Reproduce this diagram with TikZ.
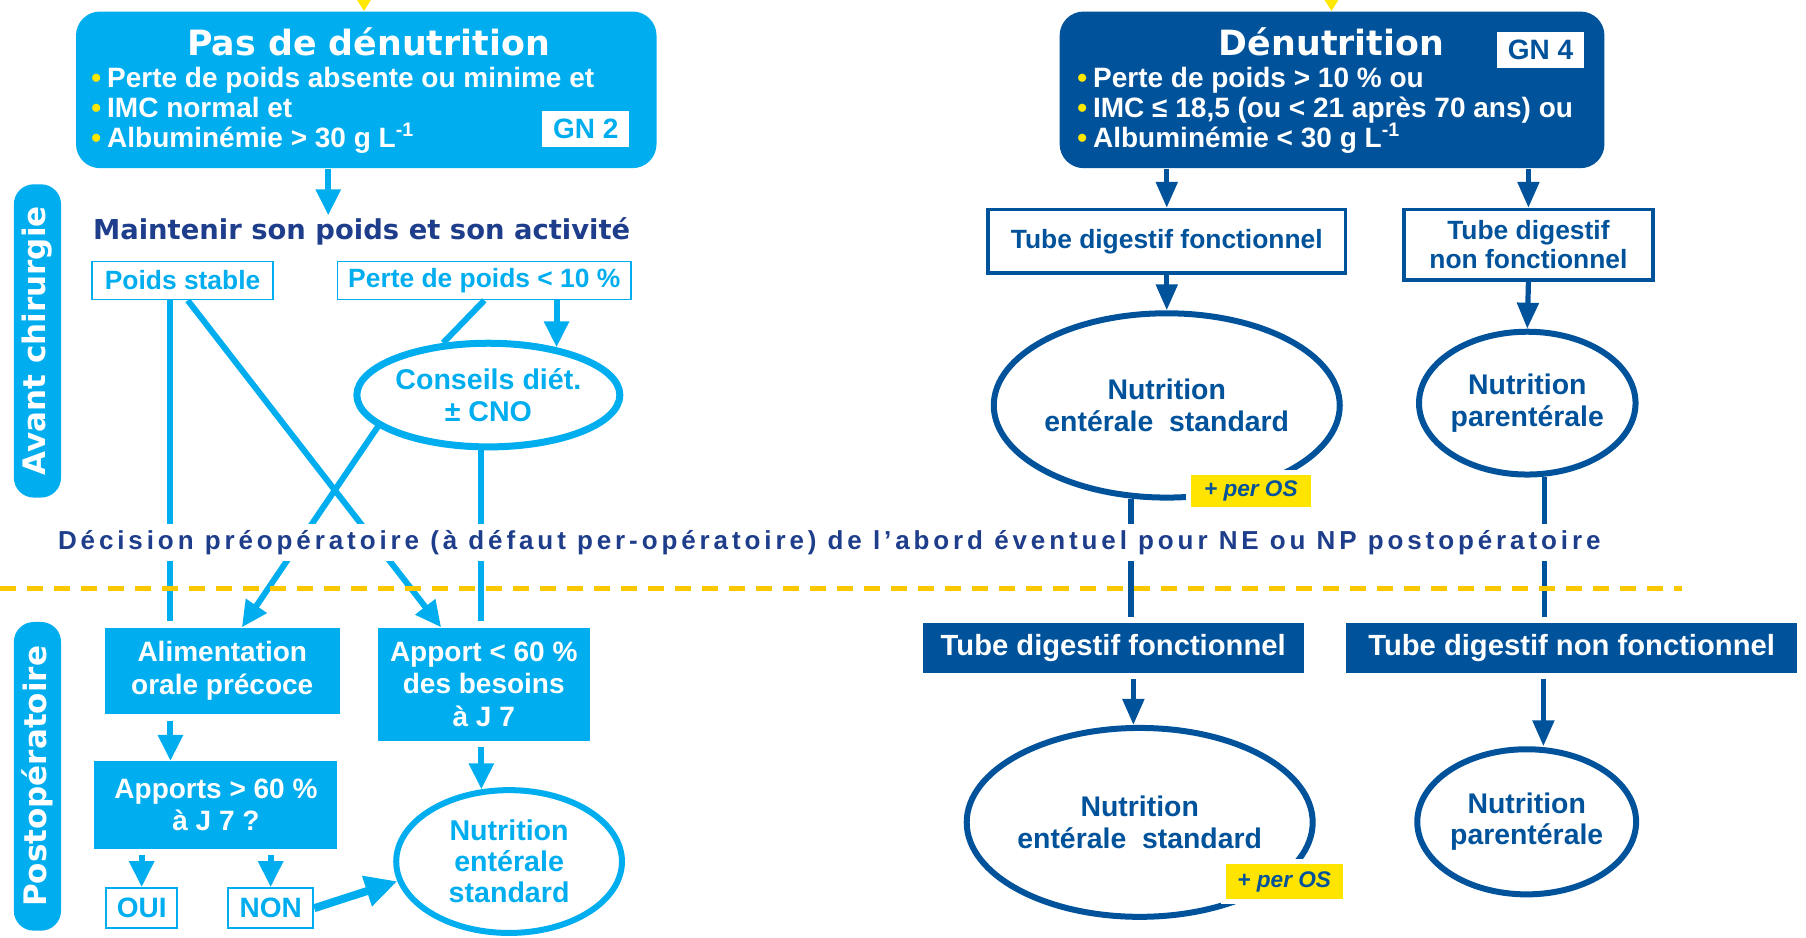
\documentclass[tikz,border=0pt]{standalone}
\usepackage{fontspec}
\setmainfont{Liberation Sans}
\newfontfamily\headfont{DejaVu Sans}
\newfontfamily\trackfont[LetterSpace=15]{Liberation Sans}
\usetikzlibrary{shapes.geometric, arrows.meta, positioning, calc, fit}

\definecolor{lblue}{RGB}{0,174,239}
\definecolor{dblue}{RGB}{0,82,155}
\definecolor{navy}{RGB}{30,62,140}
\definecolor{peryellow}{RGB}{255,228,0}
\definecolor{dashyellow}{RGB}{250,200,0}
\definecolor{dotyellow}{RGB}{255,232,0}

\def\px{0.5759pt}
\newcommand{\ybul}{{\color{dotyellow}\textbullet}\hspace{3pt}}

\begin{document}
\begin{tikzpicture}[x=0.5759pt, y=-0.5759pt,
  panel/.style={rounded corners=12pt, inner sep=0pt, draw=none},
  headline/.style={font=\headfont\bfseries\fontsize{17.4}{20}\selectfont, text=white, inner sep=0pt},
  bul/.style={anchor=base west, inner sep=0pt, text=white, font=\bfseries\fontsize{14}{16}\selectfont},
  gntag/.style={fill=white, inner sep=0pt, minimum width=75*\px, minimum height=32*\px, font=\bfseries\fontsize{14}{16}\selectfont},
  navyhead/.style={text=navy, inner sep=1pt, font=\headfont\bfseries\fontsize{13.7}{16}\selectfont},
  decisionline/.style={text=navy, fill=white, inner xsep=2pt, minimum height=32*\px, font=\trackfont\bfseries\fontsize{13}{15}\selectfont},
  sidetab/.style={fill=lblue, rounded corners=10pt, rotate=90, text=white, inner sep=0pt, minimum height=41*\px, font=\headfont\bfseries\fontsize{15.5}{18}\selectfont},
  thinbox/.style={draw=lblue, line width=0.9pt, fill=white, inner sep=0pt, text=lblue, font=\bfseries\fontsize{13.2}{15}\selectfont},
  lfill/.style={fill=lblue, inner sep=0pt, text=white, align=center, font=\bfseries\fontsize{14}{16.2}\selectfont},
  dframe/.style={draw=dblue, line width=1.8pt, fill=white, inner sep=0pt, text=dblue, align=center, font=\bfseries\fontsize{13.2}{14.4}\selectfont},
  dfill/.style={fill=dblue, inner sep=0pt, text=white, font=\bfseries\fontsize{14.6}{16}\selectfont},
  lell/.style={ellipse, draw=lblue, line width=3.5pt, fill=white, inner sep=0pt, text=lblue, align=center, font=\bfseries\fontsize{14.3}{15.6}\selectfont},
  dell/.style={ellipse, draw=dblue, line width=3pt, fill=white, inner sep=0pt, text=dblue, align=center, font=\bfseries\fontsize{14.2}{15.6}\selectfont},
  peros/.style={fill=peryellow, draw=white, line width=2.5pt, inner sep=0pt, text=dblue, font=\bfseries\itshape\fontsize{11.3}{13}\selectfont},
  larrow/.style={draw=lblue, line width=3pt, -{Triangle[width=12pt,length=13pt]}},
  lline/.style={draw=lblue, line width=3pt},
  darrow/.style={draw=dblue, line width=2.6pt, -{Triangle[width=10.5pt,length=13pt]}},
  dline/.style={draw=dblue, line width=2.6pt},
  yarrow/.style={draw=dotyellow, line width=2pt, -{Triangle[width=7pt,length=6pt]}},
  dashline/.style={draw=dashyellow, line width=2.4pt, dash pattern=on 8pt off 5.5pt}
]
\useasboundingbox (0,0) rectangle (1568,814);

% --- left panel: no undernutrition
\node[panel, fill=lblue, fit={(66,10) (570,146)}] (pasden) {};
\node[headline] (pasdentitle) at (320,36) {Pas de dénutrition};
\foreach \txt [count=\k] in {{Perte de poids absente ou minime et}, {IMC normal et}, {Albuminémie > 30 g L\textsuperscript{-1}}}
  \node[bul] (pbul\k) at (79,50+26*\k) {\ybul\txt};
\node[gntag, text=lblue] (gn2) at (508.5,112) {GN 2};

% --- right panel: undernutrition
\node[panel, fill=dblue, fit={(920,10) (1393,146)}] (denut) {};
\node[headline] (denuttitle) at (1156,36) {Dénutrition};
\foreach \txt [count=\k] in {{Perte de poids > 10 \% ou}, {IMC ≤ 18,5 (ou < 21 après 70 ans) ou}, {Albuminémie < 30 g L\textsuperscript{-1}}}
  \node[bul] (dbul\k) at (935,50+26*\k) {\ybul\txt};
\node[gntag, text=dblue, minimum height=31*\px] (gn4) at (1337.5,43.5) {GN 4};

% incoming arrows from above
\coordinate (inleft) at (316,0);
\coordinate (inright) at (1156,0);
\draw[yarrow] (inleft) -- (inleft |- pasden.north);
\draw[yarrow] (inright) -- (inright |- denut.north);

% side tabs
\node[sidetab, minimum width=272*\px] (avant) at (32.5,296) {Avant chirurgie};
\node[sidetab, minimum width=268*\px] (postop) at (32.5,674) {Postopératoire};

% --- before surgery, left
\node[navyhead] (maint) at (314,201) {Maintenir son poids et son activité};
\node[thinbox, minimum width=157*\px, minimum height=33*\px] (pstable) at (158.5,243.5) {Poids stable};
\node[thinbox, minimum width=255*\px, minimum height=33*\px] (perte) at (420.5,243.5) {Perte de poids < 10 \%};
\node[lell, minimum width=226*\px, minimum height=90*\px] (conseils) at (424,343) {Conseils diét.\\± CNO};

% --- before surgery, right
\node[dframe, minimum width=310*\px, minimum height=55*\px] (tdf1) at (1013,209.5) {Tube digestif fonctionnel};
\node[dframe, minimum width=216*\px, minimum height=61*\px] (tdnf1) at (1327,212.5) {Tube digestif\\non fonctionnel};
\node[dell, minimum width=270*\px, minimum height=160*\px] (nutes1) at (1013,352) {Nutrition\\entérale\ \ standard};
\node[dell, minimum width=188*\px, minimum height=124*\px] (nutpar1) at (1326,350) {Nutrition\\parentérale};
\node[peros, minimum width=108*\px, minimum height=32*\px] (peros1) at (1086,426) {+ per OS};

% --- after surgery, left
\node[lfill, minimum width=204*\px, minimum height=75*\px] (alim) at (193,582.5) {Alimentation\\orale précoce};
\node[lfill, minimum width=184*\px, minimum height=98*\px] (apport) at (420,594) {Apport < 60 \%\\des besoins\\à J 7};
\node[lfill, minimum width=211*\px, minimum height=76*\px] (apports) at (187.5,699) {Apports > 60 \%\\à J 7 ?};
\node[thinbox, font=\bfseries\fontsize{14}{16}\selectfont, minimum width=62*\px, minimum height=35*\px] (oui) at (123,788.5) {OUI};
\node[thinbox, font=\bfseries\fontsize{14}{16}\selectfont, minimum width=74*\px, minimum height=35*\px] (non) at (235,788.5) {NON};
\node[lell, line width=3pt, minimum width=196*\px, minimum height=124*\px] (nutel) at (442,748) {Nutrition\\entérale\\standard};

% --- after surgery, right
\node[dfill, minimum width=331*\px, minimum height=43*\px] (tdf2) at (966.5,562.5) {Tube digestif fonctionnel};
\node[dfill, minimum width=391*\px, minimum height=43*\px] (tdnf2) at (1364.5,562.5) {Tube digestif non fonctionnel};
\node[dell, minimum width=280*\px, minimum height=164*\px] (nutes2) at (989.5,714) {Nutrition\\entérale\ \ standard};
\node[dell, minimum width=190*\px, minimum height=126*\px] (nutpar2) at (1325.5,713.5) {Nutrition\\parentérale};
\node[peros, minimum width=106*\px, minimum height=35*\px] (peros2) at (1115,765.5) {+ per OS};

% connectors, left
\draw[larrow] (285,0 |- pasden.south) -- (285,0 |- maint.north);
\draw[larrow] (conseils.35 |- perte.south) -- (conseils.35);
\draw[lline] (perte.south) -- (conseils.131);
\draw[lline, shorten >=3pt] (148,0 |- pstable.south) -- (148,0 |- alim.north);
\draw[larrow] (163,0 |- pstable.south) -- (383,0 |- apport.north);
\draw[larrow] (conseils.196) -- (210,0 |- alim.north);
\draw[lline, shorten >=3pt] (conseils.262) -- (conseils.262 |- apport.north);
\draw[larrow, shorten <=3pt] (148,0 |- alim.south) -- (148,0 |- apports.north);
\draw[larrow, shorten <=3pt] (oui.north |- apports.south) -- (oui.north);
\draw[larrow, shorten <=3pt] (non.north |- apports.south) -- (non.north);
\draw[larrow, shorten <=3pt] (nutel.111 |- apport.south) -- (nutel.111);
\draw[lline, line width=4pt, -{Triangle[width=15pt,length=16pt]}] (non.east) -- (nutel.190);

% connectors, right
\draw[darrow] (tdf1.north |- denut.south) -- (tdf1.north);
\draw[darrow] (tdnf1.north |- denut.south) -- (tdnf1.north);
\draw[darrow] (tdf1.south) -- (nutes1.north);
\draw[darrow] (tdnf1.south) -- (nutpar1.north);
\draw[dline, shorten >=3pt] (nutes1.249) -- (nutes1.249 |- tdf2.north);
\draw[dline, shorten >=3pt] (nutpar1.283) -- (nutpar1.283 |- tdnf2.north);
\draw[darrow, shorten <=3pt] (984,0 |- tdf2.south) -- (984,0 |- nutes2.north);
\draw[darrow, shorten <=3pt] (1340,0 |- tdnf2.south) -- (1340,0 |- nutpar2.north);

% decision line and boundary
\node[decisionline] (decision) at (720,471) {Décision préopératoire (à défaut per-opératoire) de l’abord éventuel pour NE ou NP postopératoire};
\coordinate (dashL) at (0,511);
\coordinate (dashR) at (1460,511);
\draw[dashline] (dashL) -- (dashR);
\end{tikzpicture}
\end{document}
